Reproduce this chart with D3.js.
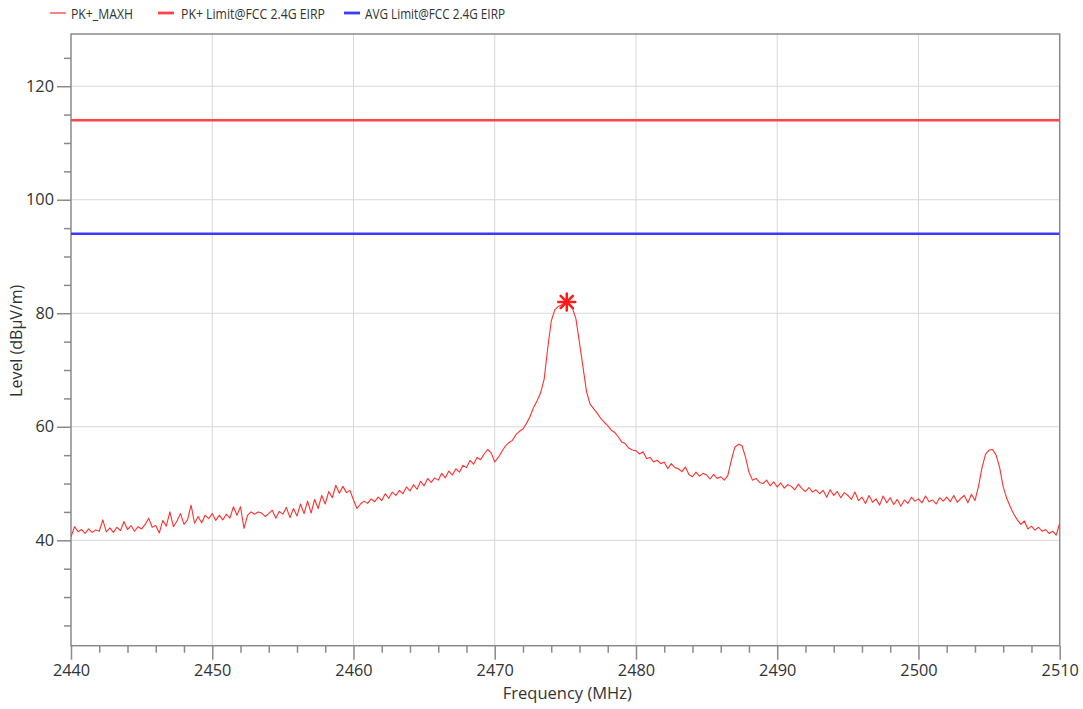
<!DOCTYPE html>
<html>
<head>
<meta charset="utf-8">
<script src="https://cdn.jsdelivr.net/npm/d3@7"></script>
<style>
html,body{margin:0;padding:0;background:#fff;}
svg{display:block;}
text{font-family:"Open Sans","Noto Sans",sans-serif;fill:#333;}
</style>
</head>
<body>
<svg id="chart" width="1083" height="709"></svg>
<script>
// Sweep grid (MHz)
const sweepStart = 2440;
const sweepStep = 0.25;
// PK+_MAXH trace values (dBµV/m) at 0.25 MHz steps
const traceValues = [
  40.6, 42.4, 41.5, 41.9,  41.2, 42.0, 41.4, 41.8,  41.6, 43.6, 41.5, 42.2,  41.4, 42.3, 41.7, 43.3,
  41.9, 42.6, 41.6, 42.4,  42.0, 42.8, 43.9, 42.3,  42.6, 41.3, 43.5, 42.5,  45.0, 42.4, 43.4, 44.7,
  42.8, 43.6, 46.2, 43.0,  44.2, 43.1, 44.4, 43.8,  44.7, 43.5, 44.4, 43.6,  44.6, 43.9, 45.9, 44.4,
  45.9, 42.1, 44.4, 45.0,  44.6, 45.0, 44.8, 44.2,  44.7, 45.3, 43.9, 45.1,  44.6, 45.8, 44.0, 45.6,
  44.3, 46.4, 44.7, 46.9,  44.8, 47.2, 45.6, 47.9,  46.4, 48.6, 47.5, 49.7,  48.3, 49.5, 48.4, 48.8,
  47.1, 45.6, 46.4, 46.9,  46.5, 47.3, 46.8, 47.6,  47.0, 48.2, 47.4, 48.5,  47.9, 48.8, 48.2, 49.4,
  48.7, 49.8, 49.0, 50.4,  49.6, 50.9, 50.2, 51.0,  50.6, 51.8, 51.0, 52.2,  51.5, 52.6, 52.0, 53.2,
  52.8, 54.1, 53.4, 54.6,  54.2, 55.2, 56.0, 55.4,  53.8, 54.6, 55.6, 56.6,  57.2, 57.6, 58.6, 59.2,
  59.6, 60.6, 61.8, 63.4,  64.6, 66.0, 68.4, 73.8,  78.6, 80.6, 81.2, 81.5,  82.0, 81.6, 80.9, 79.0,
  74.8, 70.5, 66.2, 64.0,  63.2, 62.4, 61.5, 60.8,  60.2, 59.4, 59.0, 58.2,  57.3, 57.0, 56.2, 55.9,
  55.8, 55.2, 55.6, 54.4,  54.6, 53.8, 54.1, 53.5,  53.8, 52.6, 53.5, 52.8,  52.6, 52.1, 52.9, 51.6,
  51.2, 52.0, 51.3, 51.8,  51.5, 50.8, 51.6, 50.9,  51.2, 50.6, 51.4, 54.1,  56.4, 56.9, 56.7, 54.7,
  52.0, 50.6, 50.9, 50.2,  50.0, 50.6, 49.6, 50.3,  49.4, 50.1, 49.2, 49.8,  49.5, 48.9, 49.9, 49.1,
  48.6, 49.3, 48.5, 48.9,  48.2, 48.8, 47.6, 48.9,  47.9, 48.6, 47.5, 48.4,  47.9, 47.2, 48.5, 47.0,
  47.6, 46.5, 47.9, 46.7,  47.3, 46.2, 47.8, 46.6,  47.5, 46.3, 47.2, 46.0,  47.1, 46.5, 47.6, 46.9,
  47.3, 46.6, 47.8, 46.8,  47.1, 46.4, 47.5, 46.9,  47.6, 46.8, 47.9, 46.7,  47.4, 47.9, 46.6, 48.1,
  47.0, 49.5, 52.8, 55.2,  55.9, 56.0, 55.0, 52.8,  49.4, 47.4, 45.9, 44.6,  43.6, 42.8, 43.4, 42.0,
  42.5, 41.8, 42.3, 41.6,  41.9, 41.2, 41.6, 40.9,  43.0
];
const pkLimit = 114;
const avgLimit = 94;
const peakMarker = [2475.1, 82.0];
const xDomain = [2440, 2510];
const yDomain = [21.43, 129.2];
const xMajorTicks = [2440, 2450, 2460, 2470, 2480, 2490, 2500, 2510];
const yMajorTicks = [40, 60, 80, 100, 120];
const legendLabels = ["PK+_MAXH", "PK+ Limit@FCC 2.4G EIRP", "AVG Limit@FCC 2.4G EIRP"];
const legendColors = ["#ff3030", "#ff4545", "#3a3aff"];
const axisTitles = {x: "Frequency (MHz)", y: "Level (dBµV/m)"};

const svg = d3.select("#chart");
const L = 71, R = 1059.7, T = 34, B = 645.7;
const x = d3.scaleLinear().domain(xDomain).range([L, R]);
const y = d3.scaleLinear().domain(yDomain).range([B, T]);
const axisColor = "#8a8a8a";

// gridlines
const grid = svg.append("g");
grid.selectAll("line.gx").data(xMajorTicks.filter(d => d > xDomain[0] && d < xDomain[1])).join("line")
  .attr("x1", d => x(d)).attr("x2", d => x(d)).attr("y1", T).attr("y2", B)
  .attr("stroke", "#d8d8d8").attr("stroke-width", 1);
grid.selectAll("line.gy").data(yMajorTicks).join("line")
  .attr("y1", d => y(d)).attr("y2", d => y(d)).attr("x1", L).attr("x2", R)
  .attr("stroke", "#d8d8d8").attr("stroke-width", 1);

// frame
svg.append("rect").attr("x", L).attr("y", T).attr("width", R - L).attr("height", B - T)
  .attr("fill", "none").attr("stroke", axisColor).attr("stroke-width", 1.5);

// axes
const xAxis = d3.axisBottom(x).tickValues(xMajorTicks).tickFormat(d3.format("d")).tickSize(14).tickPadding(5);
const xMinor = d3.axisBottom(x).tickValues(d3.range(2442, 2510, 2).filter(d => d % 10 !== 0)).tickFormat("").tickSize(7);
const yAxis = d3.axisLeft(y).tickValues(yMajorTicks).tickFormat(d3.format("d")).tickSize(14).tickPadding(3);
const yMinor = d3.axisLeft(y).tickValues(d3.range(25, 129, 5).filter(d => d % 20 !== 0)).tickFormat("").tickSize(7);

function styleAxis(g) {
  g.select(".domain").remove();
  g.selectAll(".tick line").attr("stroke", axisColor).attr("stroke-width", 1.5);
  g.selectAll(".tick text").attr("fill", "#333").style("font-size", "16.3px")
    .style("font-family", '"Open Sans","Noto Sans",sans-serif');
}
svg.append("g").attr("transform", `translate(0,${B})`).call(xAxis).call(styleAxis);
svg.append("g").attr("transform", `translate(0,${B})`).call(xMinor).call(styleAxis);
svg.append("g").attr("transform", `translate(${L},0)`).call(yAxis).call(styleAxis);
svg.append("g").attr("transform", `translate(${L},0)`).call(yMinor).call(styleAxis);

// clip
svg.append("clipPath").attr("id", "clip").append("rect")
  .attr("x", L).attr("y", T).attr("width", R - L).attr("height", B - T);
const plot = svg.append("g").attr("clip-path", "url(#clip)");

// limit lines
plot.append("line").attr("x1", x(xDomain[0])).attr("x2", x(xDomain[1]))
  .attr("y1", y(pkLimit)).attr("y2", y(pkLimit))
  .attr("stroke", legendColors[1]).attr("stroke-width", 2.5);
plot.append("line").attr("x1", x(xDomain[0])).attr("x2", x(xDomain[1]))
  .attr("y1", y(avgLimit)).attr("y2", y(avgLimit))
  .attr("stroke", legendColors[2]).attr("stroke-width", 2.5);

// trace
const line = d3.line().x((d, i) => x(sweepStart + i * sweepStep)).y(d => y(d));
plot.append("path").datum(traceValues).attr("d", line)
  .attr("fill", "none").attr("stroke", legendColors[0]).attr("stroke-width", 1.1)
  .attr("stroke-linejoin", "round");

// peak marker (asterisk)
const mx = x(peakMarker[0]), my = y(peakMarker[1]), r = 8.5;
const mk = svg.append("g").attr("stroke", "#ff1a1a").attr("stroke-width", 2.5).attr("stroke-linecap", "round");
[[r, 0], [0, r], [r * 0.72, r * 0.72], [r * 0.72, -r * 0.72]].forEach(([dx, dy]) => {
  mk.append("line").attr("x1", mx - dx).attr("y1", my - dy).attr("x2", mx + dx).attr("y2", my + dy);
});

// legend
const legendItems = [
  {x0: 50, tx: 71, w: 1.2, len: 62},
  {x0: 158, tx: 181, w: 2.8, len: 144},
  {x0: 344, tx: 365, w: 2.8, len: 140}
];
legendItems.forEach((it, i) => {
  svg.append("line").attr("x1", it.x0).attr("x2", it.x0 + 16).attr("y1", 13).attr("y2", 13)
    .attr("stroke", legendColors[i]).attr("stroke-width", it.w);
  svg.append("text").attr("x", it.tx).attr("y", 18.5).text(legendLabels[i])
    .attr("textLength", it.len).attr("lengthAdjust", "spacingAndGlyphs")
    .style("font-size", "14.5px");
});

// axis titles
svg.append("text").attr("x", (L + R) / 2 + 2).attr("y", 699).attr("text-anchor", "middle")
  .style("font-size", "16.5px").text(axisTitles.x);
svg.append("text").attr("transform", `translate(22,${(T + B) / 2 + 1})rotate(-90)`).attr("text-anchor", "middle")
  .style("font-size", "16px").text(axisTitles.y);
</script>
</body>
</html>
